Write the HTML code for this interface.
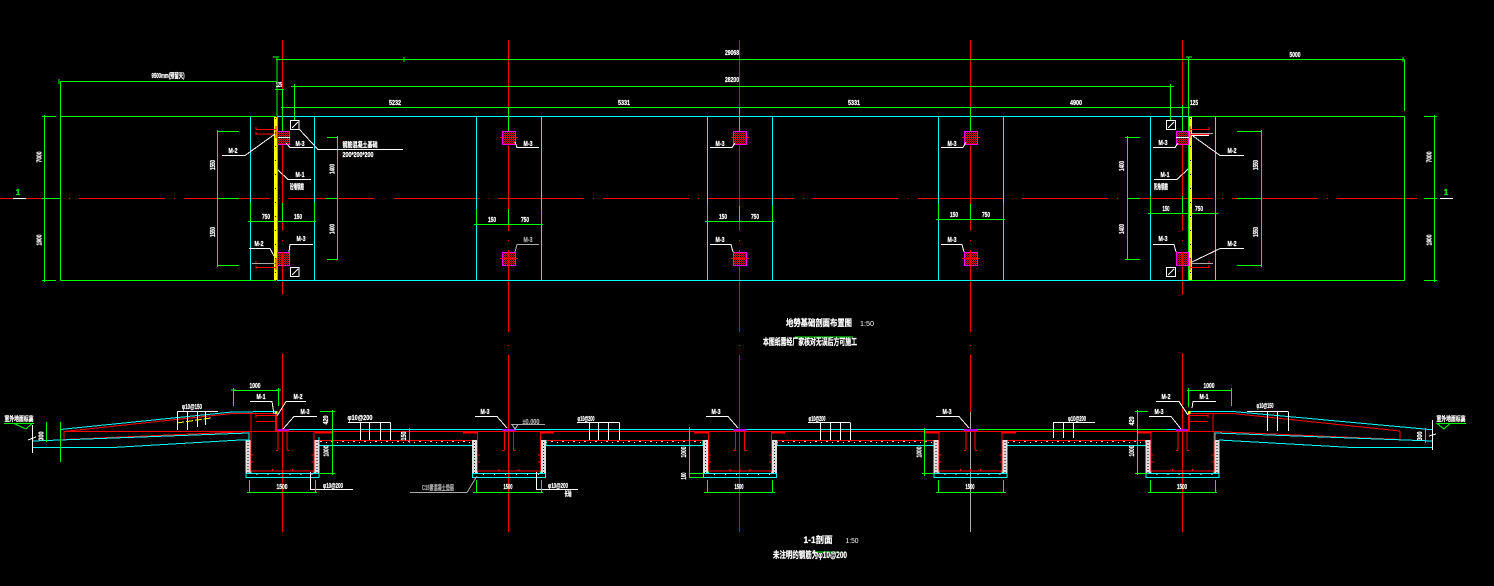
<!DOCTYPE html>
<html><head><meta charset="utf-8"><style>
html,body{margin:0;padding:0;background:#000;width:1494px;height:586px;overflow:hidden}
svg{display:block;shape-rendering:crispEdges}
text{font-family:"Liberation Sans","Noto Sans CJK SC",sans-serif;font-weight:bold;fill:#fff;font-size:7px;text-anchor:middle;stroke:#fff;stroke-width:.25}
.g{stroke:#0f0;fill:none;stroke-width:1}
.c{stroke:#0ff;fill:none;stroke-width:1}
.r{stroke:#f00;fill:none;stroke-width:1}
.w{stroke:#fff;fill:none;stroke-width:1}
.m{stroke:#f0f;stroke-width:1}
.gy{stroke:#aaa;fill:none;stroke-width:1}
</style></head><body>
<svg width="1494" height="586" viewBox="0 0 1494 586" xmlns="http://www.w3.org/2000/svg">
<defs>
<pattern id="h" width="2" height="2" patternUnits="userSpaceOnUse"><rect width="2" height="2" fill="#e00"/><rect width="1" height="1" fill="#200"/><rect x="1" y="1" width="1" height="1" fill="#200"/></pattern>
<pattern id="d" width="3" height="3" patternUnits="userSpaceOnUse"><rect width="3" height="3" fill="#ddd"/><rect x="1" y="1" width="1" height="1" fill="#000"/></pattern>
<pattern id="sp" width="11" height="4" patternUnits="userSpaceOnUse"><rect x="1" y="1" width="2" height="1" fill="#ccc"/><rect x="7" y="2" width="1" height="1" fill="#eee"/></pattern>
<g id="pit">
<rect x="-37" y="440" width="5" height="33" fill="url(#d)"/>
<rect x="32" y="440" width="5" height="33" fill="url(#d)"/>
<rect x="-36.5" y="473.5" width="73" height="4" fill="url(#sp)" stroke="#0ff"/>
<path class="c" d="M-31.5 445V473M31.5 445V473"/>
<path class="r" d="M-31.5 432V471H31.5V432"/>
<path class="r" d="M-4.5 431V450M-6.5 450.5h2M4.5 431V450M4.5 450.5h2M-31 455h2M-31 462h2M29 455h2M29 462h2M-10 469v2M0 469v2M10 469v2"/>
<rect x="-6.5" y="429" width="13" height="2" fill="#a0f"/>
</g>
</defs>

<!-- red axes plan -->
<path class="r" d="M-25.8 198.5H1417" stroke-dasharray="86 9 1 8.8"/>
<path class="r" d="M282.5 40V231M282.5 240v1M282.5 252V295M282.5 353V532
M508.5 40V231M508.5 240v1M508.5 250V332M508.5 345v1M508.5 355V532
M739.5 40V231M739.5 240v1M739.5 250V332M739.5 345v1M739.5 355V532
M970.5 40V231M970.5 240v1M970.5 250V332M970.5 345v1M970.5 355V412
M1182.5 40V231M1182.5 240v1M1182.5 252V295M1182.5 353V532"/>
<path class="gy" d="M970.5 412V532"/>

<!-- outer plan -->
<path class="g" d="M60.5 116.5H276M60.5 280.5H276M60.5 81.5V280.5M1189 116.5H1404.5V280.5H1189M1404.5 59.5V111"/>
<path class="c" d="M277 116.5H1189M277 280.5H1189"/>
<path class="c" d="M250.5 116.5V280.5M314.5 116.5V280.5M476.5 116.5V280.5M541.5 116.5V280.5M707.5 116.5V280.5M772.5 116.5V280.5M938.5 116.5V280.5M1003.5 116.5V280.5M1150.5 116.5V280.5M1215.5 116.5V280.5"/>

<!-- dims top -->
<path class="g" d="M276 59.5H1404.5M60.5 81.5H277M291 86.5H1172M281 107.5H1190
M277 57V116M1188.5 57V116M294.5 84V120M1170.5 84V120M282.5 89V131M508.5 107V131M739.5 107V131M970.5 107V131M1182.5 105V131M275 89.5h9
M59 79v5M404 57v5M273 57h6M1186 57h6M1403 57v5M292 86.5h6M1168 86.5h6"/>
<!-- left right dims -->
<path class="g" d="M44.5 115V282M42 116.5H56M42 198.5H60M42 280.5H56M1434.5 115V282M1424 116.5H1437M1424 198.5H1437M1424 280.5H1437"/>
<text x="18" y="195" style="fill:#0f0;stroke:#0f0;font-size:8px">1</text>
<text x="1446" y="195" style="fill:#0f0;stroke:#0f0;font-size:8px">1</text>
<path class="w" d="M13 198.5H26M1440 198.5H1453"/>
<!-- vertical inner dims -->
<path class="g" d="M217.5 130V267M217 131.5H239M217 198.5H239M217 265.5H239M337.5 136V260M327 137.5H338M326 198.5H338M327 259.5H338
M1127.5 136V260M1125 137.5H1140M1127 198.5H1140M1125 259.5H1140M1261.5 130V267M1237 131.5H1262M1237 198.5H1262M1237 265.5H1262"/>
<!-- horizontal 750/150 -->
<path class="g" d="M248 221.5H316M250.5 203V222M282.5 203V222M314.5 203V222
M474 224.5H543M476.5 209V225M508.5 209V225M541.5 209V225
M705 221.5H774M707.5 206V222M739.5 206V222M772.5 206V222
M936 219.5H1005M938.5 204V220M970.5 204V220M1003.5 204V220
M1148 213.5H1218M1150.5 196V214M1182.5 196V214M1215.5 196V214"/>

<!-- yellow walls -->
<rect x="274" y="117" width="3.6" height="163" fill="#ff0"/>
<rect x="1188.5" y="117" width="3.6" height="163" fill="#ff0"/>
<path d="M275.5 118V280" stroke="#000" stroke-width="1" stroke-dasharray="1 13" fill="none"/>
<path d="M1190.5 118V280" stroke="#000" stroke-width="1" stroke-dasharray="1 13" fill="none"/>
<path class="g" d="M277.5 116V280M1188.5 116V280"/>

<!-- columns -->
<rect x="277.5" y="131.5" width="12" height="13" fill="url(#h)" class="m"/>
<rect x="277.5" y="252.5" width="12" height="13" fill="url(#h)" class="m"/>
<rect x="1176.5" y="131.5" width="12" height="13" fill="url(#h)" class="m"/>
<rect x="1176.5" y="252.5" width="12" height="13" fill="url(#h)" class="m"/>
<rect x="502.5" y="131.5" width="13" height="13" fill="url(#h)" class="m"/>
<rect x="502.5" y="252.5" width="13" height="13" fill="url(#h)" class="m"/>
<rect x="733.5" y="131.5" width="13" height="13" fill="url(#h)" class="m"/>
<rect x="733.5" y="252.5" width="13" height="13" fill="url(#h)" class="m"/>
<rect x="964.5" y="131.5" width="13" height="13" fill="url(#h)" class="m"/>
<rect x="964.5" y="252.5" width="13" height="13" fill="url(#h)" class="m"/>
<path class="w" d="M278 137.5H290M1176 137.5H1189" />
<path class="r" d="M500 137.5H518M500 258.5H518M731 137.5H749M731 258.5H749M962 137.5H980M962 258.5H980M508.5 252V266M739.5 252V266M970.5 252V266M282.5 252V266M1182.5 252V266"/>
<!-- rebars -->
<path class="r" d="M256 129.5H276M256 134H276M256 127v3M256 132v3M256 263.5H276M256 267.5H276M256 261v3M256 266v3M276 126V138M276 258V270
M1190 129.5H1209M1209 127v3M1190 134.5H1209M1190 267.5H1209M1209 265v3M1209 261v3M1190 126V138M1190 258V270"/>
<path class="gy" d="M252 263.5H275M1192 133.5H1213M1192 263.5H1213"/>
<path class="w" d="M1192 135.5H1209"/>

<!-- boxes -->
<g class="w">
<rect x="290.5" y="120.5" width="8.5" height="9"/><path d="M292 128L298 122"/>
<rect x="290.5" y="267.5" width="8.5" height="9"/><path d="M292 275L298 269"/>
<rect x="1166.5" y="120.5" width="9" height="9"/><path d="M1168 128L1174 122"/>
<rect x="1166.5" y="267.5" width="9" height="9"/><path d="M1168 275L1174 269"/>
<!-- leaders -->
<path d="M222 155.5H245L275 134M286 143L290 147.5H313M278 170L288 179.5H311M299 129L318 149.5H403
M249 248.5H270L274 256M313 244.5H290L289 252
M515 142L517 147.5H539
M710 147.5H732L735 143M710 244.5H731L733 252
M941 147.5H963L966 142M941 244.5H962L964 252
M1153 147.5H1175L1178 143M1193 136L1220 155.5H1244M1154 179.5H1177L1188 169
M1153 244.5H1174L1176 252M1192 262L1220 248.5H1244"/>
</g>
<path class="gy" d="M539 244.5H517L515 252"/>

<!-- plan text -->
<text x="732" y="55" textLength="14" lengthAdjust="spacingAndGlyphs">29068</text>
<text x="732" y="82" textLength="14" lengthAdjust="spacingAndGlyphs">28200</text>
<text x="395" y="105" textLength="12" lengthAdjust="spacingAndGlyphs">5232</text>
<text x="624" y="105" textLength="12" lengthAdjust="spacingAndGlyphs">5331</text>
<text x="854" y="105" textLength="12" lengthAdjust="spacingAndGlyphs">5331</text>
<text x="1076" y="105" textLength="12" lengthAdjust="spacingAndGlyphs">4900</text>
<text x="1295" y="57" textLength="11" lengthAdjust="spacingAndGlyphs">5000</text>
<text x="168" y="78" textLength="33" lengthAdjust="spacingAndGlyphs">9500mm(预留天)</text>
<text x="279" y="87" textLength="6" lengthAdjust="spacingAndGlyphs">125</text>
<text x="1194" y="105" textLength="8" lengthAdjust="spacingAndGlyphs">125</text>
<text transform="translate(41.5,157) rotate(-90)" textLength="11" lengthAdjust="spacingAndGlyphs">7000</text>
<text transform="translate(41.5,240) rotate(-90)" textLength="11" lengthAdjust="spacingAndGlyphs">1900</text>
<text transform="translate(1431.5,157) rotate(-90)" textLength="11" lengthAdjust="spacingAndGlyphs">7000</text>
<text transform="translate(1431.5,240) rotate(-90)" textLength="11" lengthAdjust="spacingAndGlyphs">1900</text>
<text transform="translate(215,165) rotate(-90)" textLength="10" lengthAdjust="spacingAndGlyphs">1550</text>
<text transform="translate(215,232) rotate(-90)" textLength="10" lengthAdjust="spacingAndGlyphs">1550</text>
<text transform="translate(1258,165) rotate(-90)" textLength="10" lengthAdjust="spacingAndGlyphs">1550</text>
<text transform="translate(1258,232) rotate(-90)" textLength="10" lengthAdjust="spacingAndGlyphs">1550</text>
<text transform="translate(334.5,169) rotate(-90)" textLength="10" lengthAdjust="spacingAndGlyphs">1400</text>
<text transform="translate(334.5,229) rotate(-90)" textLength="10" lengthAdjust="spacingAndGlyphs">1400</text>
<text transform="translate(1124,166) rotate(-90)" textLength="10" lengthAdjust="spacingAndGlyphs">1400</text>
<text transform="translate(1124,229) rotate(-90)" textLength="10" lengthAdjust="spacingAndGlyphs">1400</text>
<g>
<text x="266" y="219" textLength="8" lengthAdjust="spacingAndGlyphs">750</text><text x="298" y="219" textLength="8" lengthAdjust="spacingAndGlyphs">150</text>
<text x="492" y="222" textLength="8" lengthAdjust="spacingAndGlyphs">150</text><text x="525" y="222" textLength="8" lengthAdjust="spacingAndGlyphs">750</text>
<text x="723" y="219" textLength="8" lengthAdjust="spacingAndGlyphs">150</text><text x="755" y="219" textLength="8" lengthAdjust="spacingAndGlyphs">750</text>
<text x="954" y="217" textLength="8" lengthAdjust="spacingAndGlyphs">150</text><text x="986" y="217" textLength="8" lengthAdjust="spacingAndGlyphs">750</text>
<text x="1166" y="211" textLength="7" lengthAdjust="spacingAndGlyphs">150</text><text x="1199" y="211" textLength="8" lengthAdjust="spacingAndGlyphs">750</text>
</g>
<text x="233" y="153" textLength="9" lengthAdjust="spacingAndGlyphs">M-2</text>
<text x="300" y="146" textLength="9" lengthAdjust="spacingAndGlyphs">M-3</text>
<text x="300" y="177" textLength="9" lengthAdjust="spacingAndGlyphs">M-1</text>
<text x="297" y="189" textLength="14" lengthAdjust="spacingAndGlyphs">砼墙钢筋</text>
<text x="360" y="147" textLength="35" lengthAdjust="spacingAndGlyphs">钢筋混凝土基础</text>
<text x="358" y="157" textLength="31" lengthAdjust="spacingAndGlyphs">200*200*200</text>
<text x="259" y="246" textLength="9" lengthAdjust="spacingAndGlyphs">M-2</text>
<text x="301" y="241" textLength="9" lengthAdjust="spacingAndGlyphs">M-3</text>
<text x="528" y="146" textLength="9" lengthAdjust="spacingAndGlyphs">M-3</text>
<text x="528" y="242" textLength="9" lengthAdjust="spacingAndGlyphs" style="fill:#aaa;stroke:#aaa">M-3</text>
<text x="720" y="146" textLength="9" lengthAdjust="spacingAndGlyphs">M-3</text>
<text x="720" y="242" textLength="9" lengthAdjust="spacingAndGlyphs">M-3</text>
<text x="952" y="146" textLength="9" lengthAdjust="spacingAndGlyphs">M-3</text>
<text x="952" y="242" textLength="9" lengthAdjust="spacingAndGlyphs">M-3</text>
<text x="1163" y="145" textLength="9" lengthAdjust="spacingAndGlyphs">M-3</text>
<text x="1232" y="153" textLength="9" lengthAdjust="spacingAndGlyphs">M-2</text>
<text x="1165" y="177" textLength="9" lengthAdjust="spacingAndGlyphs">M-1</text>
<text x="1161" y="189" textLength="14" lengthAdjust="spacingAndGlyphs">阳角钢筋</text>
<text x="1163" y="241" textLength="9" lengthAdjust="spacingAndGlyphs">M-3</text>
<text x="1232" y="246" textLength="9" lengthAdjust="spacingAndGlyphs">M-2</text>

<!-- titles -->
<path class="g" d="M795 337H853M813 552H837"/>
<text x="819" y="326" textLength="66" lengthAdjust="spacingAndGlyphs" style="font-size:9px">地勞基础剖面布置图</text>
<text x="867" y="326" textLength="14" lengthAdjust="spacingAndGlyphs" style="font-weight:normal;stroke-width:0">1:50</text>
<text x="810" y="345" textLength="94" lengthAdjust="spacingAndGlyphs" style="font-size:9px">本图纸需经厂家核对无误后方可施工</text>
<text x="818" y="543" textLength="29" lengthAdjust="spacingAndGlyphs" style="font-size:9px">1-1剖面</text>
<text x="852" y="543" textLength="13" lengthAdjust="spacingAndGlyphs" style="font-weight:normal;stroke-width:0">1:50</text>
<text x="810" y="558" textLength="74" lengthAdjust="spacingAndGlyphs" style="font-size:9px">未注明的钢筋为φ10@200</text>

<!-- section slabs -->
<rect x="319" y="441" width="154" height="4" fill="url(#sp)"/><rect x="546" y="441" width="157" height="4" fill="url(#sp)"/><rect x="777" y="441" width="157" height="4" fill="url(#sp)"/><rect x="1007" y="441" width="139" height="4" fill="url(#sp)"/>
<path class="c" d="M289 429.5H966M1167 429.5H1190"/>
<path class="g" d="M976 429.5H1167"/>
<path class="r" d="M64 431.5H1214"/>
<path class="r" d="M315 440.5H477M540 440.5H708M771 440.5H939M1002 440.5H1151"/>
<path class="c" d="M319 445.5H473M546 445.5H703M777 445.5H934M1007 445.5H1146"/>
<path class="c" d="M319 437V446M473 440V446M546 440V446M703 440V446M777 440V446M934 440V446M1007 440V446M1146 440V446"/>
<use href="#pit" x="282.5"/><use href="#pit" x="509"/><use href="#pit" x="740"/><use href="#pit" x="970.5"/><use href="#pit" x="1182.5"/>
<path d="M315 432.5H332M463 432.5H477M540 432.5H554M694 432.5H708M771 432.5H785M925 432.5H939M1002 432.5H1016M1137 432.5H1151" stroke="#f00" stroke-width="2" fill="none"/>

<!-- left slope -->
<path class="c" d="M60 429.5L232 412 275 411.5"/>
<path class="r" d="M64 431.5V439.5L250 431.5M64 431.5L232 413.5H276"/>
<path class="c" d="M33 441L249 433V441M33 447.5H113L240 440H249"/>
<path class="r" d="M251 413V432M256 413.5V418M256 415.5H276M256 421.5H276M276 414V431"/>
<path d="M276 414V431" stroke="#f00" stroke-width="2"/>
<rect x="275" y="411" width="2.5" height="3" fill="#ff0"/>
<!-- right slope -->
<path class="c" d="M1190 411.5H1233L1432 429.7"/>
<path class="r" d="M1400 431V439.5L1214 431.5M1190 413.5H1233L1400 431"/>
<path class="c" d="M1432 441L1215 433V441M1432 447.5H1352L1219 440"/>
<path class="r" d="M1213 413V432M1208 413.5V418M1189 415.5H1208M1189 421.5H1208"/>
<path d="M1189 414V431" stroke="#f00" stroke-width="2"/>
<rect x="1188" y="411" width="2.5" height="3" fill="#ff0"/>

<!-- section white -->
<g class="w">
<path d="M177.5 411.5H218M177.5 411.5V430M187.5 411.5V430M197.5 411.5V427M205.5 411.5V425"/>
<path d="M348 422.5H390.5M360.5 422.5V440M369.5 422.5V440M380.5 422.5V440M390.5 422.5V440"/>
<path d="M577 422.5H619.5M589.5 422.5V440M598.5 422.5V440M608.5 422.5V440M619.5 422.5V440"/>
<path d="M808 422.5H850M820.5 422.5V440M830.5 422.5V440M840.5 422.5V440M850.5 422.5V440"/>
<path d="M1053 422.5H1095M1053.5 422.5V438M1063.5 422.5V438M1073.5 422.5V438"/>
<path d="M1247 411.5H1288M1267.5 411.5V431M1277.5 411.5V431M1288.5 411.5V431"/>
<path d="M32.5 425V453M28 440L36 437M1432.5 420V450M1429 436L1436 434"/>
<path d="M250 401.5H272L274 414M306 401.5H286L277 416M317 416.5H294L283 429"/>
<path d="M475 416.5H497L507 428M706 416.5H728L738 428M936 416.5H959L969 428"/>
<path d="M1149 416.5H1171L1181 429M1156 401.5H1179L1188 415M1216 401.5H1193L1192 408"/>
<path d="M310.5 472V489.5H353M536.5 472V489.5H578"/>
</g>
<path class="gy" d="M410 492.5H467L477 476M511 424.5H545M512 424.5L515 429L518 424.5"/>
<path d="M177 423L211 418" stroke="#ff0" stroke-width="1" stroke-dasharray="7 2" fill="none"/>
<!-- section green -->
<path class="g" d="M233 390.5H278M233.5 388V406M278.5 388V406M231 390h5M276 390h5
M249.5 480V493M315.5 480V493M247 492.5H317M473 492.5H543M476.5 480V493M541.5 480V493M704 492.5H775M707.5 480V493M772.5 480V493M936 492.5H1006M938.5 480V493M1003.5 480V493M1148 492.5H1217M1150.5 480V493M1215.5 480V493
M332.5 410V475M320 411.5H335M320 473.5H335
M46.5 422V442M60.5 422V462M4 423.5H34M14 423.5H32L26 429Z
M409.5 428V443M689.5 427V478M689 473.5H703M689 477.5H703M924.5 428V476M922 473.5H934
M1137.5 410V475M1135 411.5H1148M1135 473.5H1148
M1187 390.5H1232M1188.5 388V407M1231.5 388V406
M1425.5 428V443M1437 423.5H1466M1437 423.5H1450L1444 429Z"/>
<!-- section text -->
<g>
<text x="255" y="388" textLength="11" lengthAdjust="spacingAndGlyphs">1000</text>
<text x="1209" y="388" textLength="11" lengthAdjust="spacingAndGlyphs">1000</text>
<text x="261" y="399" textLength="9" lengthAdjust="spacingAndGlyphs">M-1</text>
<text x="298" y="399" textLength="9" lengthAdjust="spacingAndGlyphs">M-2</text>
<text x="305" y="414" textLength="9" lengthAdjust="spacingAndGlyphs">M-3</text>
<text x="1166" y="399" textLength="9" lengthAdjust="spacingAndGlyphs">M-2</text>
<text x="1204" y="399" textLength="9" lengthAdjust="spacingAndGlyphs">M-1</text>
<text x="1159" y="414" textLength="9" lengthAdjust="spacingAndGlyphs">M-3</text>
<text x="485" y="414" textLength="9" lengthAdjust="spacingAndGlyphs">M-3</text>
<text x="716" y="414" textLength="9" lengthAdjust="spacingAndGlyphs">M-3</text>
<text x="947" y="414" textLength="9" lengthAdjust="spacingAndGlyphs">M-3</text>
<text x="192" y="409" textLength="20" lengthAdjust="spacingAndGlyphs">φ10@150</text>
<text x="360" y="420" textLength="25" lengthAdjust="spacingAndGlyphs">φ10@200</text>
<text x="586" y="421" textLength="17" lengthAdjust="spacingAndGlyphs">φ10@200</text>
<text x="817" y="421" textLength="17" lengthAdjust="spacingAndGlyphs">φ10@200</text>
<text x="1077" y="421" textLength="18" lengthAdjust="spacingAndGlyphs">φ10@200</text>
<text x="1265" y="408" textLength="17" lengthAdjust="spacingAndGlyphs">φ10@150</text>
<text x="19" y="421" textLength="29" lengthAdjust="spacingAndGlyphs">室外地面标高</text>
<text x="1451" y="421" textLength="29" lengthAdjust="spacingAndGlyphs">室外地面标高</text>
<text x="282" y="489" textLength="11" lengthAdjust="spacingAndGlyphs">1500</text>
<text x="508" y="489" textLength="9" lengthAdjust="spacingAndGlyphs">1500</text>
<text x="739" y="489" textLength="9" lengthAdjust="spacingAndGlyphs">1500</text>
<text x="970" y="489" textLength="9" lengthAdjust="spacingAndGlyphs">1500</text>
<text x="1182" y="489" textLength="10" lengthAdjust="spacingAndGlyphs">1500</text>
<text x="333" y="488" textLength="20" lengthAdjust="spacingAndGlyphs">φ10@200</text>
<text x="558" y="488" textLength="20" lengthAdjust="spacingAndGlyphs">φ10@200</text>
<text x="568" y="496" textLength="7" lengthAdjust="spacingAndGlyphs">长轴</text>
<text x="438" y="490" textLength="32" lengthAdjust="spacingAndGlyphs" style="fill:#aaa;stroke:#aaa">C15素混凝土垫层</text>
<text x="531" y="424" textLength="17" lengthAdjust="spacingAndGlyphs" style="fill:#aaa;stroke:#aaa">±0.000</text>
<text transform="translate(328,420) rotate(-90)" textLength="9" lengthAdjust="spacingAndGlyphs">420</text>
<text transform="translate(328.5,451) rotate(-90)" textLength="11" lengthAdjust="spacingAndGlyphs">1000</text>
<text transform="translate(406,436) rotate(-90)" textLength="9" lengthAdjust="spacingAndGlyphs">150</text>
<text transform="translate(686,452) rotate(-90)" textLength="11" lengthAdjust="spacingAndGlyphs">1000</text>
<text transform="translate(686,476) rotate(-90)" textLength="7" lengthAdjust="spacingAndGlyphs">100</text>
<text transform="translate(921.5,452) rotate(-90)" textLength="11" lengthAdjust="spacingAndGlyphs">1000</text>
<text transform="translate(1134,421) rotate(-90)" textLength="9" lengthAdjust="spacingAndGlyphs">420</text>
<text transform="translate(1134,451) rotate(-90)" textLength="11" lengthAdjust="spacingAndGlyphs">1000</text>
<text transform="translate(43.5,436) rotate(-90)" textLength="9" lengthAdjust="spacingAndGlyphs">300</text>
<text transform="translate(1422,436) rotate(-90)" textLength="9" lengthAdjust="spacingAndGlyphs">300</text>
</g>
</svg>
</body></html>
